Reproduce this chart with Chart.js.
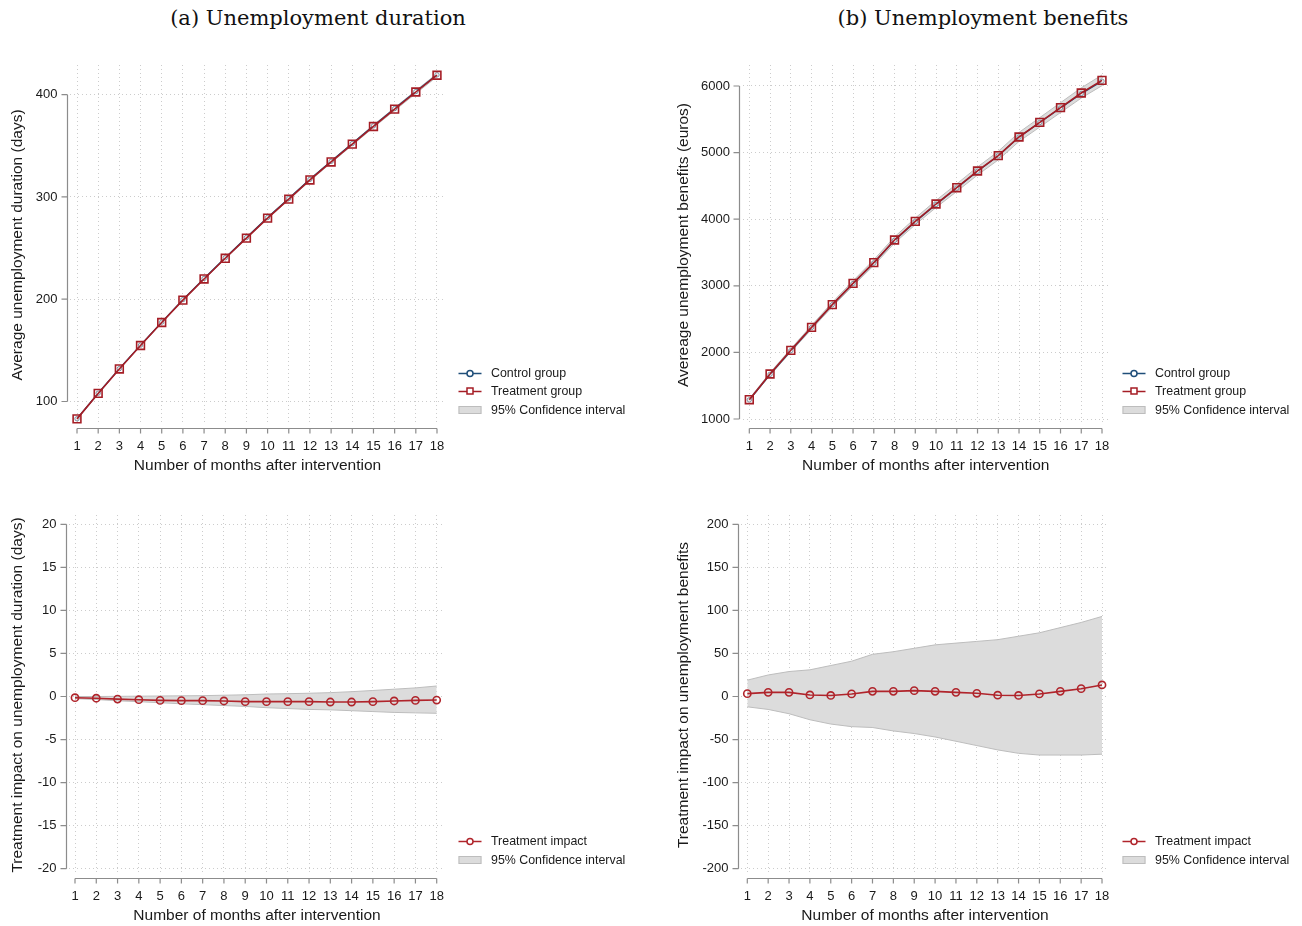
<!DOCTYPE html>
<html>
<head>
<meta charset="utf-8">
<script src="https://cdn.jsdelivr.net/npm/chart.js@4.4.1/dist/chart.umd.min.js"></script>
<style>
  html, body { margin: 0; padding: 0; background: #fff; overflow: hidden; }
  body { width: 1302px; height: 926px; position: relative; }
  .ttl { position: absolute; top: 6px; width: 420px; line-height: 24px; text-align: center;
         font-family: 'DejaVu Serif', serif; font-size: 21px; color: #111; }
  canvas { position: absolute; }
</style>
</head>
<body>
<div class="ttl" style="left:108px">(a) Unemployment duration</div>
<div class="ttl" style="left:773px">(b) Unemployment benefits</div>
<canvas id="cA"></canvas>
<canvas id="cB"></canvas>
<canvas id="cC"></canvas>
<canvas id="cD"></canvas>
<script>
// months after intervention
const months = [1, 2, 3, 4, 5, 6, 7, 8, 9, 10, 11, 12, 13, 14, 15, 16, 17, 18];

// tick labels
const durTicks = [100, 200, 300, 400];
const benTicks = [1000, 2000, 3000, 4000, 5000, 6000];
const durImpactTicks = [-20, -15, -10, -5, 0, 5, 10, 15, 20];
const benImpactTicks = [-200, -150, -100, -50, 0, 50, 100, 150, 200];

// (a) average unemployment duration (days)
const durControl   = [83.1, 108.1, 132.1, 155.1, 177.6, 199.6, 220.3, 240.5, 260.3, 279.9, 298.5, 317.2, 334.8, 352.2, 369.5, 386.4, 403.0, 419.4];
const durTreatment = [83.0, 107.9, 131.8, 154.7, 177.2, 199.1, 219.8, 240.0, 259.7, 279.3, 297.9, 316.6, 334.2, 351.6, 368.9, 385.9, 402.6, 419.0];
const durCiLow     = [82.9, 107.8, 131.6, 154.5, 176.9, 198.8, 219.4, 239.5, 259.2, 278.6, 297.1, 315.7, 333.3, 350.6, 367.8, 384.6, 401.1, 417.5];
const durCiHigh    = [83.1, 108.1, 132.1, 155.1, 177.7, 199.7, 220.4, 240.7, 260.5, 280.2, 298.8, 317.6, 335.3, 352.8, 370.2, 387.3, 404.0, 420.6];

// (b) average unemployment benefits (euros)
const benControl   = [1287, 1671, 2026, 2374, 2716, 3034, 3341, 3682, 3961, 4222, 4468, 4720, 4952, 5233, 5451, 5669, 5886, 6072];
const benTreatment = [1290, 1676, 2031, 2376, 2717, 3037, 3347, 3688, 3968, 4228, 4473, 4724, 4954, 5234, 5454, 5675, 5895, 6085];
const benCiLow     = [1275, 1656, 2006, 2347, 2684, 2999, 3305, 3642, 3918, 4175, 4416, 4663, 4890, 5167, 5383, 5601, 5818, 6005];
const benCiHigh    = [1306, 1696, 2055, 2405, 2752, 3075, 3390, 3734, 4017, 4282, 4530, 4784, 5018, 5303, 5525, 5749, 5972, 6165];

// treatment impact on duration (days)
const durImpact     = [-0.14, -0.2, -0.3, -0.37, -0.45, -0.48, -0.48, -0.52, -0.6, -0.6, -0.6, -0.6, -0.64, -0.64, -0.6, -0.52, -0.45, -0.41];
const durImpactLow  = [-0.25, -0.35, -0.5, -0.6, -0.72, -0.85, -0.95, -1.05, -1.15, -1.3, -1.4, -1.5, -1.55, -1.65, -1.75, -1.85, -1.9, -1.95];
const durImpactHigh = [0.0, 0.0, 0.02, 0.04, 0.06, 0.08, 0.1, 0.15, 0.2, 0.29, 0.33, 0.38, 0.45, 0.56, 0.7, 0.85, 1.0, 1.22];

// treatment impact on benefits (euros)
const benImpact     = [3.3, 4.8, 4.8, 1.8, 1.2, 3.0, 6.0, 6.0, 6.8, 6.0, 4.8, 3.7, 1.5, 1.2, 3.0, 6.0, 9.1, 13.4];
const benImpactLow  = [-12, -15, -20, -27, -32, -35, -36, -40, -43, -47, -52, -57, -62, -66, -68, -68, -68, -67];
const benImpactHigh = [19, 25, 29, 31, 36, 41, 49, 52, 56, 60, 62, 64, 66, 70, 74, 80, 86, 93];

const FONT = "'Liberation Sans', Arial, sans-serif";
const TEXT = '#1a1a1a';
const AXIS = '#8c8c8c';
const GRID = '#cccccc';
const RED = '#a51d25';
const IMPACT_RED = '#b0242b';
const BLUE = '#1f4e79';
const BAND = '#dcdcdc';
const BAND_EDGE = '#bdbdbd';
const TITLE_SIZE = 15.5;

const pts = arr => months.map((m, i) => ({ x: m, y: arr[i] }));

// Stata style axes: lines run from first to last tick, set off from the plot region
const stataAxes = {
  id: 'stataAxes',
  afterDraw(chart) {
    const { ctx, chartArea, scales } = chart;
    const x = scales.x, y = scales.y;
    const ax = Math.round(chartArea.left - 3.5) + 0.5;
    const ay = Math.round(chartArea.bottom + 3) + 0.5;
    const yp = y.ticks.map(t => y.getPixelForValue(t.value));
    const xp = x.ticks.map(t => x.getPixelForValue(t.value));
    ctx.save();
    ctx.strokeStyle = AXIS;
    ctx.lineWidth = 1.2;
    ctx.beginPath();
    ctx.moveTo(ax, Math.min(...yp)); ctx.lineTo(ax, Math.max(...yp));
    yp.forEach(p => { ctx.moveTo(ax, p); ctx.lineTo(ax - 6, p); });
    ctx.moveTo(Math.min(...xp), ay); ctx.lineTo(Math.max(...xp), ay);
    xp.forEach(p => { ctx.moveTo(p, ay); ctx.lineTo(p, ay + 5); });
    ctx.stroke();
    ctx.restore();
  }
};

// legend at bottom right of each panel
const stataLegend = {
  id: 'stataLegend',
  afterDraw(chart, args, opts) {
    const { ctx, chartArea } = chart;
    const items = opts.order.map(i => chart.data.datasets[i]);
    const x0 = chartArea.right + opts.iconOffset;
    ctx.save();
    ctx.font = '12.4px ' + FONT;
    ctx.textBaseline = 'middle';
    items.forEach((ds, k) => {
      const yy = Math.round(chartArea.bottom - 15 - (items.length - 1 - k) * 18.6);
      if (ds.legendMark === 'band') {
        ctx.fillStyle = BAND;
        ctx.fillRect(x0, yy - 4, 23, 8);
        ctx.strokeStyle = BAND_EDGE;
        ctx.lineWidth = 1;
        ctx.strokeRect(x0 + 0.5, yy - 3.5, 22, 7);
      } else {
        ctx.strokeStyle = ds.borderColor;
        ctx.lineWidth = 1.5;
        ctx.beginPath();
        ctx.moveTo(x0, yy + 0.5); ctx.lineTo(x0 + 23, yy + 0.5);
        ctx.stroke();
        ctx.fillStyle = '#fff';
        ctx.beginPath();
        if (ds.legendMark === 'rect') ctx.rect(x0 + 8.5, yy - 3, 6, 6);
        else ctx.arc(x0 + 11.5, yy + 0.5, 3, 0, Math.PI * 2);
        ctx.fill();
        ctx.stroke();
      }
      ctx.fillStyle = TEXT;
      ctx.fillText(ds.label, chartArea.right + opts.textOffset, yy + 0.5);
    });
    ctx.restore();
  }
};

function makePanel(p) {
  const cv = document.getElementById(p.id);
  const [bl, bt, bw, bh] = p.box;
  cv.width = bw; cv.height = bh;
  cv.style.left = bl + 'px';
  cv.style.top = bt + 'px';
  const lh = TITLE_SIZE * 1.2;
  const padLeft = p.yTitleX - bl - lh / 2;
  const yWidth = p.area[0] - bl - padLeft;
  const xHeight = bt + bh - p.area[3];
  const xTitlePad = (bt + bh - p.xTitleY) - lh / 2;
  const tickFont = { family: FONT, size: 13, lineHeight: 1.2 };
  const titleFont = { family: FONT, size: TITLE_SIZE, lineHeight: 1.2 };
  const grid = { color: GRID, lineWidth: 1, drawTicks: false };
  return new Chart(cv, {
    type: 'line',
    data: { datasets: p.datasets },
    options: {
      responsive: false,
      animation: false,
      layout: { padding: { left: padLeft, top: p.area[1] - bt, right: bl + bw - p.area[2], bottom: 0 } },
      plugins: {
        legend: { display: false },
        tooltip: { enabled: false },
        stataLegend: { order: p.legendOrder, iconOffset: 13.5, textOffset: 46 }
      },
      scales: {
        x: {
          type: 'linear',
          min: p.xRange[0], max: p.xRange[1],
          afterBuildTicks: s => { s.ticks = months.map(v => ({ value: v })); },
          afterFit: s => { s.height = xHeight; },
          grid: grid,
          border: { display: false, dash: [1, 3] },
          ticks: { font: tickFont, color: TEXT, padding: 13.5, maxRotation: 0, callback: v => String(v) },
          title: { display: true, text: 'Number of months after intervention', font: titleFont, color: TEXT,
                   padding: { top: 0, bottom: xTitlePad } }
        },
        y: {
          type: 'linear',
          min: p.yRange[0], max: p.yRange[1],
          afterBuildTicks: s => { s.ticks = p.yTicks.map(v => ({ value: v })); },
          afterFit: s => { s.width = yWidth; },
          grid: grid,
          border: { display: false, dash: [1, 3] },
          ticks: { font: tickFont, color: TEXT, padding: 12.5, callback: v => String(v) },
          title: { display: true, text: p.yTitle, font: titleFont, color: TEXT, padding: { top: 0, bottom: 0 } }
        }
      }
    },
    plugins: [stataAxes, stataLegend]
  });
}

function groupSets(treat, ctrl, lo, hi) {
  return [
    { label: 'Treatment group', data: pts(treat), borderColor: RED, borderWidth: 1.6,
      pointStyle: 'rect', pointRadius: 5.5, pointBorderWidth: 1.6, pointBorderColor: RED,
      pointBackgroundColor: 'rgba(255,255,255,0)', legendMark: 'rect' },
    { label: 'Control group', data: pts(ctrl), borderColor: BLUE, borderWidth: 1.4,
      pointStyle: 'circle', pointRadius: 2.2, pointBorderWidth: 1, pointBorderColor: '#7f8fa0',
      pointBackgroundColor: '#f2f2f2', legendMark: 'circle' },
    { label: '95% Confidence interval', data: pts(lo), borderColor: BAND_EDGE, borderWidth: 1,
      pointRadius: 0, fill: false, legendMark: 'band' },
    { label: 'upper bound', data: pts(hi), borderColor: BAND_EDGE, borderWidth: 1,
      pointRadius: 0, fill: '-1', backgroundColor: BAND }
  ];
}

function impactSets(est, lo, hi) {
  return [
    { label: 'Treatment impact', data: pts(est), borderColor: IMPACT_RED, borderWidth: 1.6,
      pointStyle: 'circle', pointRadius: 3.6, pointBorderWidth: 1.6, pointBorderColor: IMPACT_RED,
      pointBackgroundColor: 'rgba(255,255,255,0)', legendMark: 'circle' },
    { label: '95% Confidence interval', data: pts(lo), borderColor: BAND_EDGE, borderWidth: 1,
      pointRadius: 0, fill: false, legendMark: 'band' },
    { label: 'upper bound', data: pts(hi), borderColor: BAND_EDGE, borderWidth: 1,
      pointRadius: 0, fill: '-1', backgroundColor: BAND }
  ];
}

makePanel({
  id: 'cA', box: [0, 40, 651, 445], area: [70, 65, 445, 425], yTitleX: 18, xTitleY: 466,
  xRange: [0.669, 18.378], yRange: [77, 429], yTicks: durTicks,
  yTitle: 'Average unemployment duration (days)',
  datasets: groupSets(durTreatment, durControl, durCiLow, durCiHigh), legendOrder: [1, 0, 2]
});

makePanel({
  id: 'cB', box: [651, 40, 651, 445], area: [742.5, 65, 1109, 425], yTitleX: 684, xTitleY: 466,
  xRange: [0.672, 18.337], yRange: [910, 6315], yTicks: benTicks,
  yTitle: 'Avereage unemployment benefits (euros)',
  datasets: groupSets(benTreatment, benControl, benCiLow, benCiHigh), legendOrder: [1, 0, 2]
});

makePanel({
  id: 'cC', box: [0, 486, 651, 440], area: [69, 515, 445, 875], yTitleX: 18, xTitleY: 916,
  xRange: [0.718, 18.39], yRange: [-20.73, 21.08], yTicks: durImpactTicks,
  yTitle: 'Treatment impact on unemployment duration (days)',
  datasets: impactSets(durImpact, durImpactLow, durImpactHigh), legendOrder: [0, 1]
});

makePanel({
  id: 'cD', box: [651, 486, 651, 440], area: [741, 515, 1109, 875], yTitleX: 684, xTitleY: 916,
  xRange: [0.698, 18.335], yRange: [-207.3, 210.8], yTicks: benImpactTicks,
  yTitle: 'Treatment impact on unemployment benefits',
  datasets: impactSets(benImpact, benImpactLow, benImpactHigh), legendOrder: [0, 1]
});
</script>
</body>
</html>
